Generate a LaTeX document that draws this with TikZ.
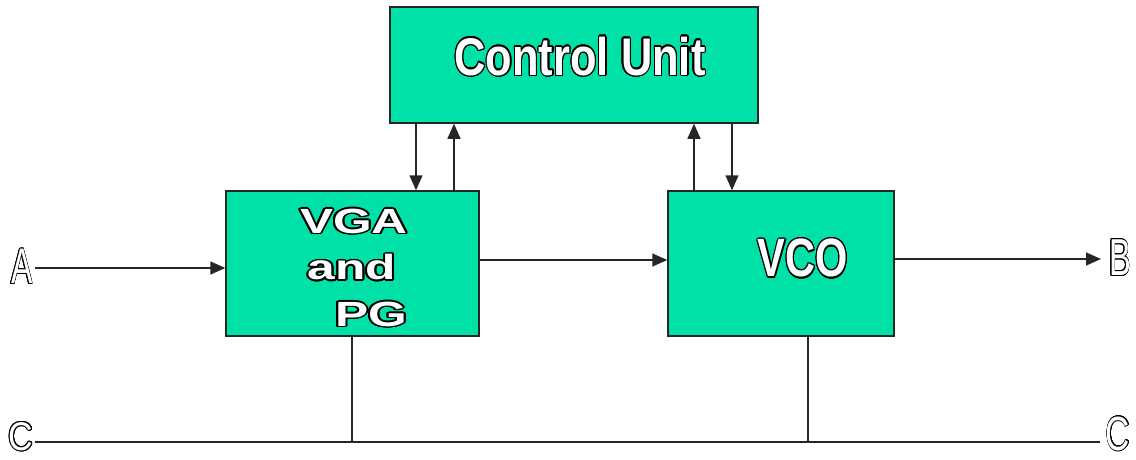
\documentclass[tikz,border=0pt]{standalone}
\usepackage{fontspec}
\setmainfont{Liberation Sans}
\usepackage{contour}
\usetikzlibrary{arrows.meta}
\definecolor{boxgreen}{RGB}{0,225,168}
\contourlength{1.4pt}
\newcommand{\boxtext}[3]{\fontsize{#2}{#2}\bfseries\scalebox{#1}[1]{\color{white}\contour{black}{#3}}}
\newcommand{\porttext}[3]{\fontsize{#2}{#2}\selectfont\contourlength{1pt}\scalebox{#1}[1]{\color{white}\contour{black}{#3}}}

\begin{document}
\begin{tikzpicture}[x=1pt,y=-1pt]
    \tikzstyle{block}=[draw=black!85,line width=1.5pt,fill=boxgreen,inner sep=0pt]
    \tikzstyle{wire}=[draw=black!85,line width=1.5pt]
    \tikzstyle{arr}=[wire,-{Triangle[length=15pt,width=13pt]}]
    \tikzstyle{every node}=[inner sep=0pt]
    \useasboundingbox (0,0) rectangle (1136,459);
    \node[block,minimum width=368pt,minimum height=116pt] (cu) at (574,65) {};
    \node[block,minimum width=253pt,minimum height=145pt] (vga) at (352.5,263.5) {};
    \node[block,minimum width=226pt,minimum height=145pt] (vco) at (781,263.5) {};
    \node (cutxt) at (580,57) {\boxtext{0.82}{53}{Control Unit}};
    \node (vcotxt) at (803,259) {\boxtext{0.77}{54}{VCO}};
    \node (vgatxt1) at (354,222) {\boxtext{1.42}{35}{VGA}};
    \node (vgatxt2) at (352,268) {\boxtext{1.42}{35}{and}};
    \node (vgatxt3) at (371,315) {\boxtext{1.42}{35}{PG}};
    \node (a) at (22,267) {\porttext{0.64}{50}{A}};
    \node (b) at (1120,258) {\porttext{0.63}{52}{B}};
    \node (cl) at (21,437) {\porttext{0.85}{40}{C}};
    \node (cr) at (1118,434) {\porttext{0.7}{48}{C}};
    \coordinate (busl) at (35,442);
    \coordinate (busr) at (1100,442);
    % control lines
    \draw[arr] (cu.south -| 416,0) -- (vga.north -| 416,0);
    \draw[arr] (vga.north -| 454,0) -- (cu.south -| 454,0);
    \draw[arr] (vco.north -| 694,0) -- (cu.south -| 694,0);
    \draw[arr] (cu.south -| 732,0) -- (vco.north -| 732,0);
    % signal path
    \draw[arr] (35,268) -- (vga.west |- 0,268);
    \draw[arr] (vga.east |- 0,260) -- (vco.west |- 0,260);
    \draw[arr] (vco.east |- 0,259) -- (1101,259);
    % bus
    \draw[wire] (busl) -- (busr);
    \draw[wire] (vga.south -| 352,0) -- (busl -| 352,0);
    \draw[wire] (vco.south -| 808,0) -- (busl -| 808,0);
\end{tikzpicture}
\end{document}
